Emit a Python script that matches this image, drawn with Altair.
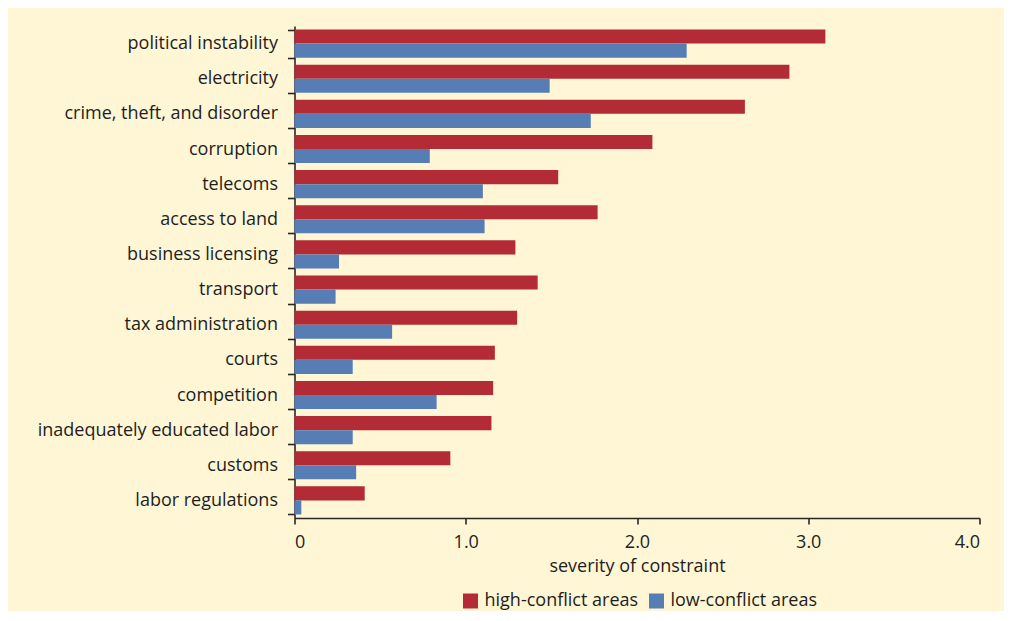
import altair as alt
import pandas as pd

categories = [
    "political instability", "electricity", "crime, theft, and disorder",
    "corruption", "telecoms", "access to land", "business licensing",
    "transport", "tax administration", "courts", "competition",
    "inadequately educated labor", "customs", "labor regulations",
]
high_conflict = [3.10, 2.89, 2.63, 2.09, 1.54, 1.77, 1.29, 1.42, 1.30, 1.17, 1.16, 1.15, 0.91, 0.41]
low_conflict = [2.29, 1.49, 1.73, 0.79, 1.10, 1.11, 0.26, 0.24, 0.57, 0.34, 0.83, 0.34, 0.36, 0.04]
series = ["high-conflict areas", "low-conflict areas"]
colors = ["#B32B35", "#567EB4"]

rows = []
for c, h, l in zip(categories, high_conflict, low_conflict):
    rows.append({"constraint": c, "area": series[0], "severity": h})
    rows.append({"constraint": c, "area": series[1], "severity": l})
df = pd.DataFrame(rows)

FONT = "Open Sans"
TEXT = "#221e1f"

chart = alt.Chart(df).mark_bar().encode(
    y=alt.Y("constraint:N", sort=categories,
            scale=alt.Scale(paddingInner=0.2, paddingOuter=0.1),
            axis=alt.Axis(title=None, tickBand="extent", tickSize=7, labelPadding=10,
                          labelFontSize=18, labelColor=TEXT, labelFont=FONT, labelLimit=0,
                          domainColor="#2a2626", domainWidth=1.6, tickColor="#2a2626",
                          tickWidth=1.6)),
    yOffset=alt.YOffset("area:N", sort=series, scale=alt.Scale(paddingInner=0, paddingOuter=0)),
    x=alt.X("severity:Q", scale=alt.Scale(domain=[0, 4], nice=False),
            axis=alt.Axis(title="severity of constraint", values=[0, 1, 2, 3, 4],
                          labelExpr="datum.value == 0 ? '0' : format(datum.value, '.1f')",
                          grid=False, tickSize=6, labelPadding=9, labelFontSize=18,
                          labelColor=TEXT, labelFont=FONT, titleFont=FONT,
                          titleFontSize=18, titleFontWeight="normal", titleColor=TEXT,
                          titlePadding=6, domainColor="#2a2626", domainWidth=1.6,
                          tickColor="#2a2626", tickWidth=1.6)),
    color=alt.Color("area:N", sort=series,
                    scale=alt.Scale(domain=series, range=colors),
                    legend=alt.Legend(title=None, orient="none", direction="horizontal",
                                      legendX=167, legendY=566, symbolType="square",
                                      symbolSize=225, symbolStrokeWidth=0, symbolOpacity=1,
                                      labelFontSize=18, labelFont=FONT, labelColor=TEXT,
                                      labelOffset=5, columnPadding=9, padding=0,
                                      labelLimit=0)),
).properties(
    width=685, height=492,
    background="#FFF6D5",
    autosize=alt.AutoSizeParams(type="none"),
    padding={"left": 286.5, "top": 18, "right": 24.5, "bottom": 93},
).configure_view(stroke=None)

chart.save("out.html", embed_options={"renderer": "svg", "actions": False})
